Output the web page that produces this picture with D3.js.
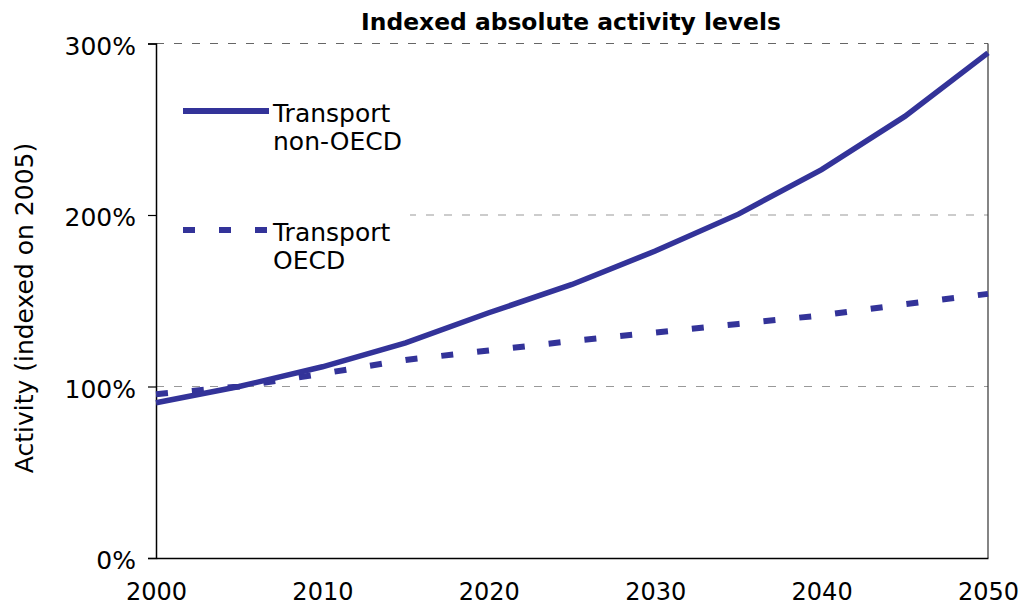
<!DOCTYPE html>
<html><head><meta charset="utf-8">
<script src="https://cdn.jsdelivr.net/npm/d3@7"></script>
<style>body{margin:0;background:#fff}svg{display:block}text{font-family:"DejaVu Sans",Verdana,sans-serif}</style>
</head><body>
<svg id="c" width="1021" height="607"></svg>
<script>
const years = [2000,2005,2010,2015,2020,2025,2030,2035,2040,2045,2050];
const nonOecd = [90.5,100,111.5,125.5,143,159.5,179,200.5,226.5,257.5,294.5];
const oecd = [95.5,100,107.5,115.5,121,126.5,131.5,136.5,141.5,148,154];
const yTicks = [0,100,200,300];
const xTicks = [2000,2010,2020,2030,2040,2050];
const seriesNames = [["Transport","non-OECD"],["Transport","OECD"]];
const title = "Indexed absolute activity levels";
const yLabel = "Activity (indexed on 2005)";

const svg = d3.select("#c");
const L=156,R=988,T=43.5,B=558;
const x = d3.scaleLinear().domain([2000,2050]).range([L,R]);
const y = d3.scaleLinear().domain([0,300]).range([B,T]);
const col = "#333399";

// gridlines
svg.append("g").selectAll("line").data(yTicks.filter(d=>d>0)).join("line")
  .attr("x1",L).attr("x2",R).attr("y1",d=>y(d)).attr("y2",d=>y(d))
  .attr("stroke",d=>d===300?"#666":"#999").attr("stroke-width",1.2)
  .attr("stroke-dasharray","8,10");

// legend background
svg.append("rect").attr("x",L).attr("y",88).attr("width",254).attr("height",192).attr("fill","#fff");

// right border
svg.append("line").attr("x1",R).attr("x2",R).attr("y1",T).attr("y2",B).attr("stroke","#333").attr("stroke-width",1.2);

// y axis
const ya = svg.append("g").attr("transform",`translate(${L},0)`)
  .call(d3.axisLeft(y).tickValues(yTicks).tickSize(8).tickPadding(12).tickFormat(d=>d+"%"));
ya.select(".domain").attr("stroke","#000").attr("stroke-width",1.5);
ya.selectAll(".tick line").attr("stroke","#000").attr("stroke-width",1.2);
ya.selectAll("text").attr("font-size","25px").attr("fill","#000").attr("dy","0.42em").attr("font-family","DejaVu Sans");

// x axis
const xa = svg.append("g").attr("transform",`translate(0,${B})`)
  .call(d3.axisBottom(x).tickValues(xTicks).tickSize(0).tickPadding(25).tickFormat(d3.format("d")));
xa.select(".domain").attr("stroke","#000").attr("stroke-width",1.5);
xa.selectAll("text").attr("font-size","24px").attr("fill","#000").attr("font-family","DejaVu Sans");

// lines
const line = d3.line().x((d,i)=>x(years[i])).y(d=>y(d));
svg.append("path").datum(oecd).attr("d",line).attr("fill","none").attr("stroke",col)
  .attr("stroke-width",6).attr("stroke-dasharray","12,24");
svg.append("path").datum(nonOecd).attr("d",line).attr("fill","none").attr("stroke",col)
  .attr("stroke-width",5.5);

// legend
const lg = svg.append("g");
const legY=[111,230];
seriesNames.forEach((n,i)=>{
  lg.append("line").attr("x1",183).attr("x2",269).attr("y1",legY[i]).attr("y2",legY[i])
    .attr("stroke",col).attr("stroke-width",6).attr("stroke-dasharray",i===0?null:"12,24");
  const t = lg.append("text").attr("x",273).attr("y",legY[i]+11).attr("font-size","25px").attr("fill","#000");
  t.append("tspan").attr("x",273).text(n[0]);
  t.append("tspan").attr("x",273).attr("dy",28).text(n[1]);
});

// title
svg.append("text").attr("x",(L+R)/2 - 1).attr("y",30).attr("text-anchor","middle")
  .attr("font-size","23.4px").attr("font-weight","bold").attr("fill","#000").text(title);

// y label
svg.append("text").attr("transform",`translate(33,308) rotate(-90)`).attr("text-anchor","middle")
  .attr("font-size","25px").attr("fill","#000").text(yLabel);
</script>
</body></html>
